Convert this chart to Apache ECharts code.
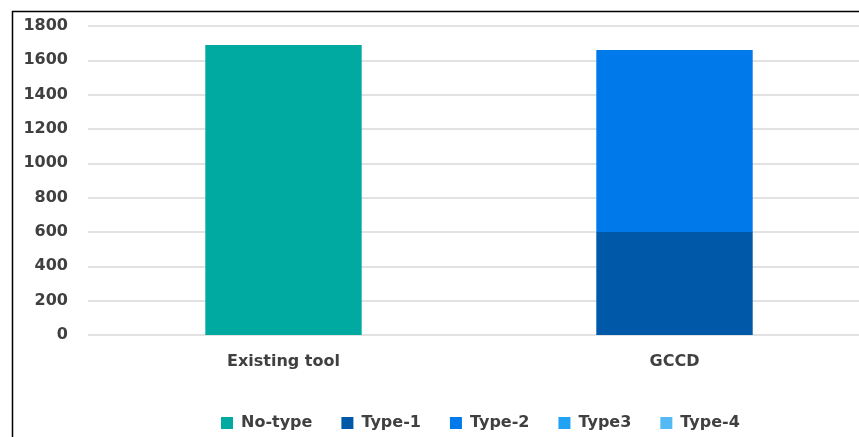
<!DOCTYPE html>
<html><head><meta charset="utf-8">
<script src="https://cdn.jsdelivr.net/npm/echarts@6/dist/echarts.min.js"></script>
<style>html,body{margin:0;padding:0;background:#fff;overflow:hidden}#c{width:880px;height:437px}</style>
</head><body><div id="c"></div>
<script>
var categories = ['Existing tool', 'GCCD'];
var seriesNames = ['No-type', 'Type-1', 'Type-2', 'Type3', 'Type-4'];
var noType = [1690, null];
var type1 = [null, 600];
var type2 = [null, 1060];
var type3 = [null, 0];
var type4 = [null, 0];
var colors = ['#00AAA1', '#0058A8', '#0079EA', '#20A2F5', '#55B9F5'];
var values = [noType, type1, type2, type3, type4];

var chart = echarts.init(document.getElementById('c'));
var series = seriesNames.map(function (n, i) {
  return { name: n, type: 'bar', stack: 'total', data: values[i], barWidth: '40%',
    itemStyle: { color: colors[i] } };
});
var font = { fontFamily: 'DejaVu Sans', fontSize: 16, fontWeight: 'bold', color: '#404040' };
chart.setOption({
  animation: false,
  color: colors,
  graphic: [{ type: 'rect', left: 10, top: 9, shape: { width: 900, height: 500 },
    style: { fill: 'none', stroke: '#000', lineWidth: 1.5 }, silent: true }],
  grid: { left: 88, top: 26, width: 782, height: 309, containLabel: false },
  legend: { left: 216, top: 410, itemWidth: 12, itemHeight: 12, itemGap: 29,
    icon: 'rect',
    textStyle: Object.assign({ padding: [0, 0, 0, 3] }, font),
    data: seriesNames },
  xAxis: { type: 'category', data: categories,
    axisLine: { show: false }, axisTick: { show: false },
    axisLabel: Object.assign({ margin: 19 }, font) },
  yAxis: { type: 'value', min: 0, max: 1800, interval: 200,
    axisLine: { show: false }, axisTick: { show: false },
    axisLabel: Object.assign({ margin: 20, formatter: function (v) { return String(v); } }, font),
    splitLine: { lineStyle: { color: '#d9d9d9', width: 1.5 } } },
  series: series
});
</script></body></html>
